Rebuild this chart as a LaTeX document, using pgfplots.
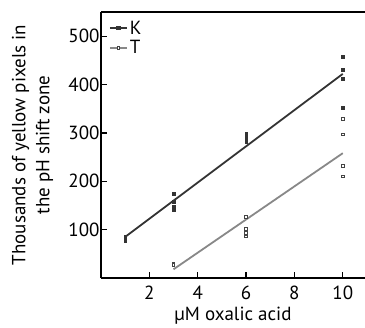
\documentclass[border=0pt]{standalone}
\usepackage{fontspec}
\setmainfont{PT Sans}
\usepackage{pgfplots}
\pgfplotsset{compat=1.18}
\definecolor{kc}{HTML}{333333}
\definecolor{tc}{HTML}{888888}
\definecolor{tm}{HTML}{444444}
\begin{document}
\begin{tikzpicture}
\begin{axis}[
  scale only axis,
  width=264pt, height=266pt,
  xmin=0, xmax=10.92, ymin=0, ymax=550,
  axis x line*=box, axis y line*=left,
  axis line style={line width=1.5pt, black},
  tick style={line width=1.3pt, black},
  tick align=inside,
  major tick length=6pt,
  xtick={2,4,6,8,10}, ytick={100,200,300,400,500},
  /pgf/number format/assume math mode=true,
  ticklabel style={font=\fontsize{19}{22}\selectfont},
  xticklabel style={yshift=-4pt},
  yticklabel style={xshift=2pt},
  xtick pos=bottom, ytick pos=left,
  xlabel={µM oxalic acid},
  xlabel style={font=\fontsize{19}{22}\selectfont, yshift=-1pt},
  ylabel={\begin{tabular}{c}Thousands of yellow pixels in\\the pH shift zone\end{tabular}},
  ylabel style={font=\fontsize{19}{24}\selectfont, yshift=5pt},
  legend style={at={(0.03,0.975)}, anchor=north west, draw=none, fill=none,
    font=\fontsize{19}{19}\selectfont, row sep=1pt, inner sep=0pt},
  legend cell align=left,
  clip=false,
]
\addlegendimage{color=kc, line width=1.6pt, mark=square*, mark size=1.3pt, mark options={fill=kc}}
\addlegendentry{K}
\addlegendimage{color=tc, line width=1.6pt, mark=square*, mark size=1.3pt, mark options={draw=tm, fill=white, line width=0.7pt}}
\addlegendentry{T}
% regression lines
\addplot[kc, line width=1.8pt, forget plot] coordinates {(1,85) (10,422)};
\addplot[tc, line width=1.8pt, forget plot] coordinates {(3,18) (10,258)};
% K points
\addplot[only marks, mark=square*, mark size=1.3pt, draw=kc, fill=kc, forget plot] coordinates {
(1,76) (1,80) (1,86)
(3,174) (3,158) (3,148) (3,140)
(6,299) (6,293) (6,287) (6,282)
(10,458) (10,431) (10,412) (10,352)
};
% T points
\addplot[only marks, mark=square*, mark size=1.3pt, draw=tm, fill=white, line width=0.7pt, forget plot] coordinates {
(3,30) (3,27)
(6,127) (6,101) (6,93) (6,86)
(10,329) (10,297) (10,232) (10,210)
};
\end{axis}
\pgfresetboundingbox
\path (current axis.south west) ++(-101pt,-50pt) rectangle ++(365pt,328pt);
\end{tikzpicture}
\end{document}
